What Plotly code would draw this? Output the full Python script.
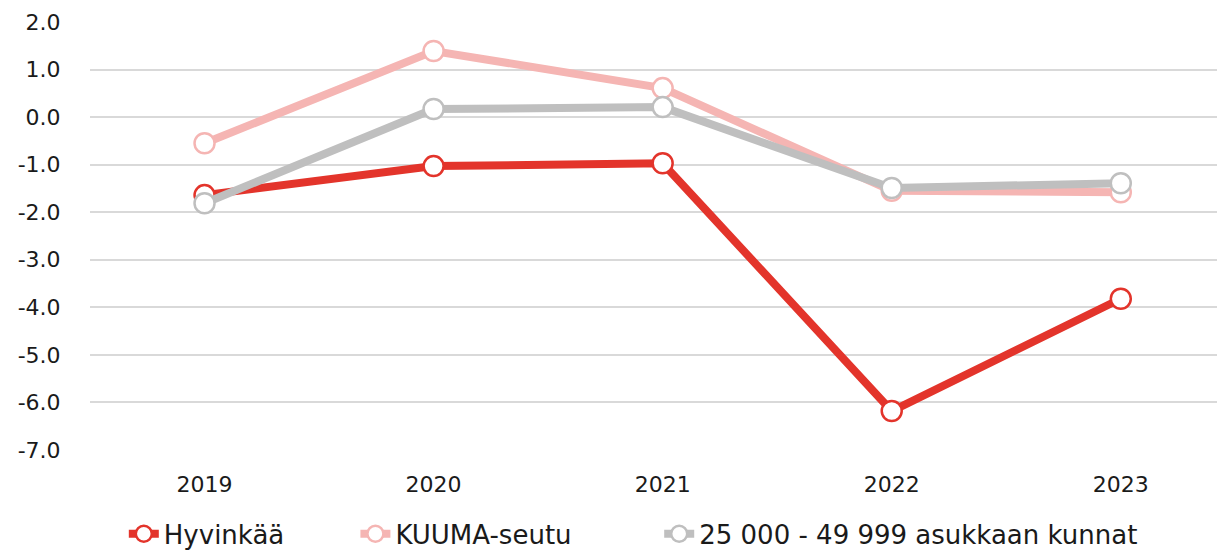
import plotly.graph_objects as go

years = ["2019", "2020", "2021", "2022", "2023"]
hyvinkaa = [-1.64, -1.03, -0.97, -6.18, -3.82]
kuuma = [-0.55, 1.39, 0.61, -1.55, -1.58]
kunnat = [-1.81, 0.17, 0.21, -1.49, -1.39]

y_tickvals = [2, 1, 0, -1, -2, -3, -4, -5, -6, -7]
y_ticktext = ["2.0", "1.0", "0.0", "-1.0", "-2.0", "-3.0", "-4.0", "-5.0", "-6.0", "-7.0"]

series = [
    ("Hyvinkää", hyvinkaa, "#E3342B"),
    ("KUUMA-seutu", kuuma, "#F5B5B3"),
    ("25 000 - 49 999 asukkaan kunnat", kunnat, "#BFBFBF"),
]

FONT = "DejaVu Sans"
TXT = "#1a1a1a"
PADS = ["\u00a0" * 8, "\u00a0" * 10, ""]

fig = go.Figure()
for (name, vals, col), pad in zip(series, PADS):
    fig.add_trace(go.Scatter(
        x=years, y=vals, name=name + pad,
        mode="lines+markers",
        line=dict(color=col, width=8),
        marker=dict(symbol="circle", size=20, color="white",
                    line=dict(color=col, width=2.5)),
    ))

fig.update_layout(
    width=1217, height=552,
    margin=dict(l=90, r=0, t=22, b=102, autoexpand=False),
    plot_bgcolor="white", paper_bgcolor="white",
    font=dict(family=FONT, size=22, color=TXT),
    showlegend=True,
    legend=dict(orientation="h", x=0.03, xanchor="left", y=-0.196, yanchor="middle",
                font=dict(size=26, family=FONT, color=TXT),
                tracegroupgap=0),
)
fig.update_xaxes(
    type="category", range=[-0.5, 4.42],
    showgrid=False, zeroline=False, showline=False,
    ticks="outside", ticklen=15, tickcolor="white",
    tickfont=dict(size=22, family=FONT, color=TXT),
)
fig.update_yaxes(
    range=[-7, 2], tickvals=y_tickvals, ticktext=y_ticktext,
    showgrid=True, gridcolor="#D9D9D9", gridwidth=2,
    zeroline=False, showline=False,
    ticks="outside", ticklen=24, tickcolor="white",
    tickfont=dict(size=22, family=FONT, color=TXT),
)

fig.write_html(
    "out.html", config={"displayModeBar": False},
    post_script=("document.documentElement.style.overflow='hidden';"
                 "document.body.style.margin='0';document.body.style.overflow='hidden';"),
)
